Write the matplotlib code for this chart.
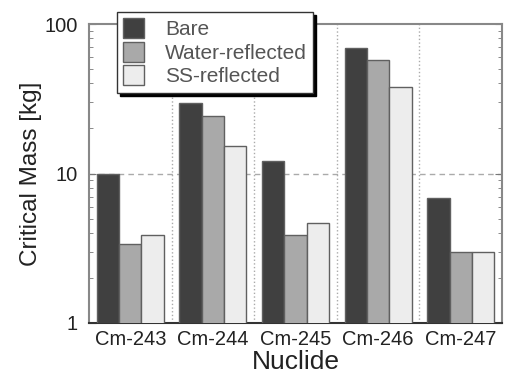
import numpy as np
import matplotlib
matplotlib.use('Agg')
import matplotlib.pyplot as plt

plt.rcParams['font.family'] = ['Liberation Sans', 'DejaVu Sans']

nuclides = ['Cm-243', 'Cm-244', 'Cm-245', 'Cm-246', 'Cm-247']
bare = [10.0, 29.5, 12.1, 69.5, 6.9]
water = [3.4, 24.4, 3.9, 57.4, 3.0]
ss = [3.85, 15.3, 4.7, 38.1, 3.0]

series = [('Bare', bare, '#404040'),
          ('Water-reflected', water, '#a9a9a9'),
          ('SS-reflected', ss, '#ededed')]

fig = plt.figure(figsize=(5.06, 3.76), dpi=100)
ax = fig.add_axes([89/506, 1 - 323/376, (502-89)/506, (323-24)/376])

x = np.arange(len(nuclides))
w = 0.27
for i, (lab, vals, col) in enumerate(series):
    ax.bar(x + (i - 1) * w, vals, w, color=col, edgecolor='#606060',
           linewidth=1.0, label=lab, zorder=3)

ax.set_yscale('log')
ax.set_ylim(1, 100)
ax.set_xlim(-0.5, len(nuclides) - 0.5)
ax.set_xticks(x)
ax.set_xticklabels(nuclides, fontsize=14.5, color='#222222')
ax.set_yticks([1, 10, 100])
ax.set_yticklabels(['1', '10', '100'], fontsize=14.5, color='#222222')
ax.tick_params(axis='x', length=0, pad=5)
ax.tick_params(axis='y', which='both', direction='in', right=True, color='#777777')
ax.tick_params(axis='y', which='major', length=5, pad=8)
ax.tick_params(axis='y', which='minor', length=3)

# dotted separators between nuclides, dashed grid at decades
for b in np.arange(0.5, len(nuclides) - 0.5, 1.0):
    ax.axvline(b, color='#aaaaaa', linestyle=':', linewidth=1.0, zorder=1)
ax.axhline(10, color='#aaaaaa', linestyle=(0, (4, 3)), linewidth=1.0, zorder=1)

for s in ax.spines.values():
    s.set_color('#888888')
    s.set_linewidth(1.5)
ax.spines['bottom'].set_color('#333333')

ax.set_xlabel('Nuclide', fontsize=19, labelpad=1, color='#222222')
ax.set_ylabel('Critical Mass [kg]', fontsize=17.5, labelpad=2, color='#222222')

fig.legend(loc='upper left', bbox_to_anchor=(117/506, 1 - 12/376),
           borderaxespad=0, fontsize=15, frameon=True, fancybox=False,
           shadow={'color': 'black', 'alpha': 1}, edgecolor='#333333',
           framealpha=1, handlelength=1.0, handleheight=1.1,
           labelspacing=0.12, borderpad=0.3, handletextpad=1.0,
           labelcolor='#555555')

fig.savefig('out.png', dpi=100)
